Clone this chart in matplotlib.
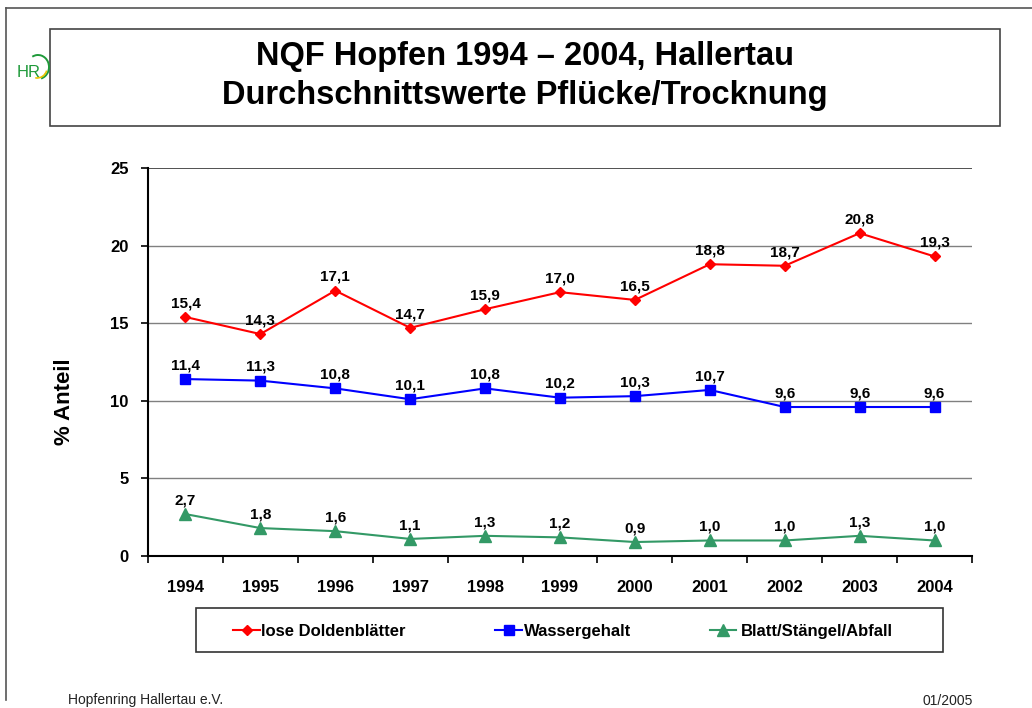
import matplotlib
matplotlib.use("Agg")
import matplotlib.pyplot as plt
from matplotlib.patches import Rectangle, Arc

plt.rcParams['font.family'] = ['Liberation Sans', 'DejaVu Sans']

years = ['1994', '1995', '1996', '1997', '1998', '1999', '2000', '2001', '2002', '2003', '2004']
lose_dolden = [15.4, 14.3, 17.1, 14.7, 15.9, 17.0, 16.5, 18.8, 18.7, 20.8, 19.3]
wassergehalt = [11.4, 11.3, 10.8, 10.1, 10.8, 10.2, 10.3, 10.7, 9.6, 9.6, 9.6]
blatt_stengel = [2.7, 1.8, 1.6, 1.1, 1.3, 1.2, 0.9, 1.0, 1.0, 1.3, 1.0]
series_names = ['lose Doldenblätter', 'Wassergehalt', 'Blatt/Stängel/Abfall']

W, H = 1032, 708
fig = plt.figure(figsize=(W / 100, H / 100), dpi=100)


def fx(px):
    return px / W


def fy(py):
    return 1 - py / H


# overlay in pixel units for page furniture (frame, title box, legend, logo)
page = fig.add_axes([0, 0, 1, 1], zorder=0)
page.set_xlim(0, W)
page.set_ylim(H, 0)
page.axis('off')

page.plot([6, 6], [8, 700], color='#555555', lw=1.2)
page.plot([6, W], [8, 8], color='#555555', lw=1.2)

page.add_patch(Rectangle((50, 29), 950, 97, facecolor='white', edgecolor='#444444', lw=1.2))
page.text(525, 65, 'NQF Hopfen 1994 – 2004, Hallertau', ha='center', va='baseline',
          fontsize=23.5, fontweight='bold')
page.text(525, 104, 'Durchschnittswerte Pflücke/Trocknung', ha='center', va='baseline',
          fontsize=23.5, fontweight='bold')

# logo
page.text(17, 77, 'HR', ha='left', va='baseline', fontsize=12, color='#1f9a3a')
page.add_patch(Arc((38, 67), 22, 24, theta1=-119, theta2=75, color='#1f9a3a', lw=1.4))
page.add_patch(Arc((37, 68), 20, 20, theta1=15, theta2=100, color='#e8c400', lw=1.2))

# main plot
ax = fig.add_axes([fx(148), fy(556), fx(972) - fx(148), fy(168) - fy(556)], zorder=1)
ax.set_facecolor('none')
x = list(range(len(years)))

styles = [
    (lose_dolden, '#FF0000', 'D', 5),
    (wassergehalt, '#0000FF', 's', 7),
    (blatt_stengel, '#339966', '^', 8),
]
for (vals, col, mk, ms), name in zip(styles, series_names):
    ax.plot(x, vals, color=col, marker=mk, markersize=ms, lw=1.5, clip_on=False)
    for xi, v in zip(x, vals):
        ax.annotate(f'{v:.1f}'.replace('.', ','), (xi, v), xytext=(0, 7), textcoords='offset points',
                    ha='center', va='baseline', fontsize=11, fontweight='bold')

ax.set_xlim(-0.5, len(years) - 0.5)
ax.set_ylim(0, 25)
ax.set_yticks([0, 5, 10, 15, 20, 25])
ax.set_yticklabels(['0', '5', '10', '15', '20', '25'], fontsize=12, fontweight='bold')
ax.set_xticks(x)
ax.set_xticklabels(years, fontsize=12, fontweight='bold')
ax.set_xticks([i - 0.5 for i in range(len(years) + 1)], minor=True)
ax.tick_params(axis='x', which='major', length=0, pad=17)
ax.tick_params(axis='x', which='minor', length=5, direction='out', width=1.2)
ax.tick_params(axis='y', length=5, direction='out', width=1.2, pad=9)
for yv in [5, 10, 15, 20]:
    ax.axhline(yv, color='#808080', lw=1.0, zorder=0)
ax.axhline(25, color='#333333', lw=1.2, zorder=0)
for s in ['top', 'right']:
    ax.spines[s].set_visible(False)
ax.spines['left'].set_linewidth(1.5)
ax.spines['bottom'].set_linewidth(1.5)

page.text(64, 402, '% Anteil', rotation=90, ha='center', va='center', fontsize=16, fontweight='bold')

# legend box drawn by hand to match the original placement
page.add_patch(Rectangle((196, 608), 747, 44, facecolor='white', edgecolor='#333333', lw=1.2))
legend_x = [(233, 260, 261), (495, 522, 524), (710, 736, 741)]
for (vals, col, mk, ms), name, (x0, x1, tx) in zip(styles, series_names, legend_x):
    page.plot([x0, x1], [630, 630], color=col, lw=1.5)
    page.plot([(x0 + x1) / 2], [630], color=col, marker=mk, markersize=ms)
    page.text(tx, 636, name, ha='left', va='baseline', fontsize=12, fontweight='bold')

page.text(68, 704, 'Hopfenring Hallertau e.V.', ha='left', va='baseline', fontsize=10, color='#222222')
page.text(973, 705, '01/2005', ha='right', va='baseline', fontsize=10, color='#222222')

fig.savefig('out.png', dpi=100)
